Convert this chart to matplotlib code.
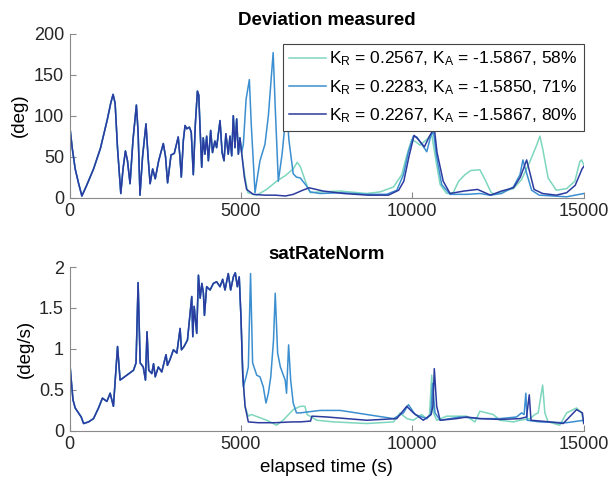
import numpy as np
import matplotlib.pyplot as plt

plt.rcParams["font.family"] = ["Liberation Sans", "DejaVu Sans"]
plt.rcParams["mathtext.fontset"] = "custom"
plt.rcParams["mathtext.rm"] = "Liberation Sans"
plt.rcParams["mathtext.it"] = "Liberation Sans:italic"

# ---- Deviation measured (deg): common part up to ~5000 s ----
dev_t_common = [0, 80, 165, 260, 360, 500, 700, 900, 1100, 1200, 1270, 1330, 1400, 1495,
                1560, 1630, 1690, 1765, 1850, 1950, 2000, 2055, 2130, 2230, 2290, 2350,
                2425, 2500, 2600, 2735, 2800, 2860, 2960, 3055, 3170, 3220, 3260, 3320,
                3370, 3420, 3495, 3550, 3610, 3670, 3730, 3770, 3810, 3855, 3900, 3950,
                4000, 4050, 4117, 4170, 4240, 4290, 4390, 4450, 4506, 4560, 4630, 4680,
                4730, 4777, 4825, 4875, 4925, 4970, 5020]
dev_y_common = [90, 60, 35, 18, 2, 15, 35, 60, 95, 115, 126, 115, 60, 5,
                35, 57, 45, 17, 70, 113, 80, 3, 50, 90, 50, 17,
                35, 23, 45, 66, 50, 18, 52, 54, 74, 50, 25, 70,
                88, 84, 86, 80, 28, 90, 130, 125, 82, 37, 73, 53,
                75, 45, 82, 55, 69, 61, 94, 55, 45, 78, 53, 75,
                51, 100, 61, 96, 53, 73, 55]

dev_t_58 = [5100, 5200, 5460, 5750, 6040, 6300, 6525, 6640, 6730, 6915, 7020, 7310, 7900,
            8670, 9060, 9450, 9690, 9840, 9980, 10100, 10225, 10420, 10565, 10660, 10810,
            11000, 11190, 11350, 11535, 11700, 11970, 12120, 12300, 12410, 12600, 12945,
            13185, 13430, 13625, 13720, 13800, 13960, 14200, 14500, 14740, 14885, 14935, 15000]
dev_y_58 = [30, 6, 3, 10, 20, 27, 35, 43, 38, 16, 6, 7, 8,
            5, 7, 13, 28, 52, 71, 68, 64, 71, 77, 52, 16,
            5, 6, 20, 28, 33, 34, 22, 6, 4, 7, 11,
            22, 44, 64, 75, 60, 24, 9, 11, 20, 44, 46, 40]

dev_t_71 = [5070, 5150, 5245, 5300, 5410, 5480, 5555, 5700, 5800, 5940, 6000, 6090, 6200,
            6330, 6400, 6525, 6620, 6730, 6900, 7020, 7310, 7900, 8670, 9250, 9545, 9740,
            9885, 10030, 10130, 10325, 10420, 10535, 10615, 10700, 10855, 11100, 11600,
            11970, 12265, 12600, 12945, 13140, 13225, 13290, 13480, 13700, 14500, 15000]
dev_y_71 = [65, 120, 144, 90, 6, 25, 45, 65, 100, 177, 110, 20, 53,
            109, 70, 29, 25, 24, 15, 7, 5, 6, 4, 4, 9, 28,
            56, 75, 74, 62, 56, 75, 81, 52, 16, 4, 4,
            5, 3, 5, 13, 28, 46, 36, 9, 3, 1, 5]

dev_t_80 = [5100, 5165, 5360, 5700, 6000, 6300, 6525, 6800, 6990, 7400, 8000, 8700, 9300,
            9600, 9750, 9900, 10050, 10150, 10350, 10500, 10640, 10720, 10900, 11100, 11500,
            11900, 12280, 12600, 12950, 13150, 13333, 13400, 13550, 13800, 14200, 14500,
            14750, 14950, 15000]
dev_y_80 = [25, 10, 4, 3, 3, 2, 4, 9, 12, 8, 5, 3, 3,
            9, 20, 50, 76, 72, 62, 75, 85, 55, 20, 5, 8,
            10, 3, 8, 12, 25, 46, 35, 10, 5, 3, 6,
            15, 35, 38]

# ---- satRateNorm (deg/s) ----
rate_t_common = [0, 10, 50, 100, 165, 260, 340, 410, 555, 700, 845, 960, 1090, 1185, 1280,
                 1400, 1475, 1670, 1865, 1940, 2000, 2060, 2150, 2215, 2260, 2310, 2400,
                 2450, 2500, 2590, 2690, 2815, 2855, 2930, 3030, 3130, 3225, 3265, 3340,
                 3440, 3565, 3595, 3635, 3710, 3760, 3810, 3860, 3905, 3935, 4000, 4100,
                 4195, 4290, 4390, 4467, 4535, 4630, 4700, 4780, 4835, 4895, 4950, 5000]
rate_y_common = [0, 0.82, 0.62, 0.38, 0.28, 0.22, 0.17, 0.09, 0.11, 0.15, 0.28, 0.40, 0.36,
                 0.46, 0.30, 1.03, 0.62, 0.68, 0.74, 0.83, 1.81, 0.83, 0.78, 0.62, 1.21,
                 0.74, 0.70, 0.82, 0.66, 0.78, 0.72, 0.93, 0.80, 0.87, 0.99, 0.95, 1.25,
                 0.99, 1.03, 1.11, 1.64, 1.15, 1.52, 1.19, 1.90, 1.62, 1.80, 1.68, 1.41,
                 1.76, 1.72, 1.80, 1.82, 1.76, 1.85, 1.72, 1.92, 1.72, 1.88, 1.93, 1.76,
                 1.88, 1.39]

rate_t_58 = [5050, 5120, 5215, 5300, 5500, 5750, 6040, 6230, 6525, 6730, 6865, 6930, 7215,
             7700, 8670, 9450, 9640, 9840, 10030, 10270, 10420, 10500, 10565, 10615, 10710,
             11000, 11580, 11825, 11970, 12170, 12360, 12555, 12945, 13140, 13430, 13575,
             13670, 13800, 13865, 13960, 14300, 14500, 14790, 14935, 15000]
rate_y_58 = [0.70, 0.30, 0.18, 0.20, 0.17, 0.13, 0.07, 0.13, 0.26, 0.30, 0.30, 0.20, 0.13,
             0.11, 0.09, 0.11, 0.22, 0.15, 0.13, 0.20, 0.15, 0.20, 0.68, 0.22, 0.13,
             0.18, 0.18, 0.11, 0.24, 0.22, 0.20, 0.13, 0.11, 0.13, 0.15, 0.20,
             0.22, 0.56, 0.22, 0.11, 0.07, 0.22, 0.28, 0.22, 0.09]

rate_t_71 = [5070, 5150, 5215, 5280, 5340, 5460, 5555, 5650, 5730, 5800, 5870, 5950, 6000,
             6070, 6150, 6290, 6330, 6390, 6450, 6525, 6620, 6730, 7310, 7900, 8670, 9450,
             9740, 9885, 10080, 10420, 10540, 10590, 10660, 10810, 11390, 11970, 12555,
             13040, 13185, 13260, 13310, 13350, 13720, 14500, 15000]
rate_y_71 = [0.54, 0.66, 0.78, 1.92, 0.83, 0.68, 0.66, 0.54, 0.34, 0.46, 0.66, 1.11, 1.68,
             0.95, 0.78, 0.62, 0.46, 1.05, 0.62, 0.34, 0.22, 0.22, 0.25, 0.25, 0.20, 0.15,
             0.22, 0.32, 0.20, 0.15, 0.20, 0.58, 0.22, 0.13, 0.17, 0.15, 0.15,
             0.17, 0.22, 0.20, 0.46, 0.13, 0.11, 0.10, 0.13]

rate_t_80 = [5050, 5120, 5215, 5500, 6000, 6500, 6730, 7030, 7070, 7500, 8670, 9545, 9835,
             10030, 10320, 10545, 10600, 10640, 10710, 10810, 11290, 11580, 11970, 12555,
             13140, 13330, 13410, 13460, 14010, 14400, 14790, 14960, 15000]
rate_y_80 = [0.70, 0.30, 0.11, 0.10, 0.10, 0.11, 0.11, 0.12, 0.18, 0.17, 0.13, 0.15, 0.30,
             0.22, 0.13, 0.20, 0.30, 0.76, 0.30, 0.13, 0.15, 0.17, 0.15, 0.14,
             0.15, 0.17, 0.44, 0.13, 0.11, 0.09, 0.26, 0.22, 0.09]

labels = [r"K$_\mathregular{R}$ = 0.2567, K$_\mathregular{A}$ = -1.5867, 58%",
          r"K$_\mathregular{R}$ = 0.2283, K$_\mathregular{A}$ = -1.5850, 71%",
          r"K$_\mathregular{R}$ = 0.2267, K$_\mathregular{A}$ = -1.5867, 80%"]
colors = ["#7dd6bd", "#3b8fd0", "#2c3b9f"]

dev_tails = [(dev_t_58, dev_y_58), (dev_t_71, dev_y_71), (dev_t_80, dev_y_80)]
rate_tails = [(rate_t_58, rate_y_58), (rate_t_71, rate_y_71), (rate_t_80, rate_y_80)]


def style(ax):
    for s in ["top", "right"]:
        ax.spines[s].set_visible(False)
    for s in ["left", "bottom"]:
        ax.spines[s].set_color("#8a8a8a")
        ax.spines[s].set_linewidth(0.8)
    ax.tick_params(direction="in", length=4, width=0.8, color="#8a8a8a",
                   labelsize=13, labelcolor="#262626", pad=4)
    ax.set_xlim(0, 15000)
    ax.set_xticks([0, 5000, 10000, 15000])


fig = plt.figure(figsize=(6.1, 4.82), dpi=100)
ax1 = fig.add_axes([0.114, 0.590, 0.843, 0.340])
ax2 = fig.add_axes([0.114, 0.106, 0.843, 0.340])

for (tt, yy), c, lab in zip(dev_tails, colors, labels):
    ax1.plot(dev_t_common + tt, dev_y_common + yy, color=c, lw=1.1, label=lab)
for (tt, yy), c in zip(rate_tails, colors):
    ax2.plot(rate_t_common + tt, rate_y_common + yy, color=c, lw=1.1)

style(ax1)
ax1.set_ylim(0, 200)
ax1.set_yticks([0, 50, 100, 150, 200])
ax1.set_ylabel("(deg)", fontsize=13.5)
ax1.set_title("Deviation measured", fontsize=13.5, fontweight="bold", pad=6)
leg = ax1.legend(loc="upper right", bbox_to_anchor=(1.0, 0.94), fontsize=12.5,
                 fancybox=False, framealpha=1, edgecolor="#444444",
                 handlelength=2.1, handletextpad=0.2, borderaxespad=0.0,
                 labelspacing=0.55, borderpad=0.35)
leg.get_frame().set_linewidth(0.8)

style(ax2)
ax2.set_ylim(0, 2)
ax2.set_yticks([0, 0.5, 1, 1.5, 2])
ax2.set_yticklabels(["0", "0.5", "1", "1.5", "2"])
ax2.set_ylabel("(deg/s)", fontsize=13.5)
ax2.set_xlabel("elapsed time (s)", fontsize=13.5)
ax2.set_title("satRateNorm", fontsize=13.5, fontweight="bold", pad=6)

fig.savefig("out.png", dpi=100)
